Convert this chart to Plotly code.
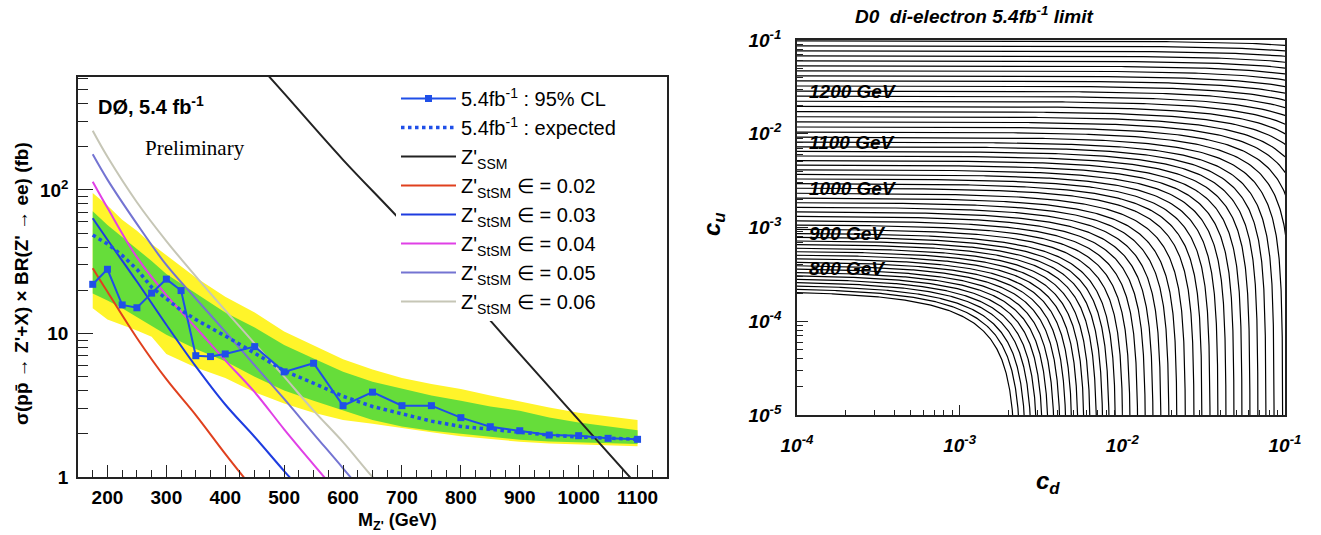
import numpy as np
import plotly.graph_objects as go

# ---------------- Left panel data (D0 Z' -> ee limits) ----------------
mass = [175, 200, 225, 250, 275, 300, 325, 350, 375, 400, 450, 500, 550, 600,
        650, 700, 750, 800, 850, 900, 950, 1000, 1050, 1100]
observed = [22, 28, 15.8, 15.1, 19.1, 23.9, 19.9, 7.0, 6.9, 7.2, 8.1, 5.4, 6.2, 3.14,
            3.9, 3.14, 3.14, 2.59, 2.24, 2.1, 1.96, 1.94, 1.86, 1.83]
expected = [48.5, 42, 35, 28, 21, 17.5, 14.5, 12.5, 11, 9.6, 7.3, 5.5, 4.5, 3.65,
            3.1, 2.75, 2.45, 2.25, 2.15, 2.05, 1.96, 1.9, 1.86, 1.83]

band_mass = [175, 200, 225, 250, 275, 300, 350, 400, 450, 500, 550, 600, 650, 700,
             750, 800, 850, 900, 950, 1000, 1050, 1100]
yellow_hi = [95, 78, 62, 52, 42, 35, 24.5, 18, 14, 10.3, 8.2, 6.6, 5.6, 4.9,
             4.45, 4.1, 3.7, 3.35, 3.05, 2.8, 2.65, 2.5]
green_hi = [71, 57, 47, 39, 32, 26, 19, 14, 11, 8.3, 6.7, 5.4, 4.6, 4.1,
            3.7, 3.4, 3.1, 2.9, 2.6, 2.4, 2.25, 2.12]
green_lo = [19, 17, 15, 13, 11.3, 9.8, 7.8, 6.4, 5.0, 4.0, 3.4, 2.9, 2.5, 2.25,
            2.1, 2.0, 1.9, 1.82, 1.77, 1.74, 1.72, 1.7]
yellow_lo = [15, 12.5, 11.5, 10.5, 9.5, 7.2, 5.8, 4.9, 3.9, 3.25, 2.8, 2.5, 2.35, 2.2,
             2.05, 1.92, 1.83, 1.76, 1.71, 1.68, 1.66, 1.64]

ssm_mass = [450, 500, 600, 700, 800, 900, 1000, 1100]
ssm_xsec = [800, 470, 162, 60, 21, 7.2, 2.5, 0.87]

e02_mass = [175, 200, 250, 300, 350, 400, 450]
e02_xsec = [28.5, 19.5, 9.3, 4.8, 2.7, 1.45, 0.8]
e03_mass = [175, 200, 250, 300, 350, 400, 450, 500, 550]
e03_xsec = [63.5, 45, 23, 11.5, 5.9, 3.2, 1.9, 1.1, 0.65]
e04_mass = [175, 200, 250, 300, 350, 400, 450, 500, 550, 600]
e04_xsec = [114, 75, 34, 18.5, 11, 6.5, 3.9, 2.15, 1.22, 0.7]
e05_mass = [175, 200, 250, 300, 350, 400, 450, 500, 550, 600, 650]
e05_xsec = [177, 118, 58, 30, 17.5, 10.3, 6.0, 3.5, 2.0, 1.15, 0.65]
e06_mass = [175, 200, 250, 300, 350, 400, 450, 500, 550, 600, 650, 700]
e06_xsec = [258, 170, 82, 44, 25, 14.5, 8.5, 5.0, 2.9, 1.75, 1.0, 0.6]

left_xticks = [200, 300, 400, 500, 600, 700, 800, 900, 1000, 1100]
left_yticks = [1, 10, 100]
left_yticktext = ["1", "10", "10<sup>2</sup>"]

# ---------------- Right panel data (c_u - c_d contours) ----------------
contour_mass = list(range(730, 1301, 10))
contour_logcu = [  # log10(c_u) of each contour's flat (c_d -> 0) level
    -3.674, -3.640, -3.606, -3.571, -3.537, -3.502, -3.467,
    -3.432, -3.396, -3.360, -3.324, -3.287, -3.250, -3.213, -3.175, -3.137, -3.098,
    -3.059, -3.015, -2.970, -2.924, -2.877, -2.830, -2.782, -2.733, -2.684, -2.632,
    -2.579, -2.530, -2.481, -2.432, -2.383, -2.334, -2.285, -2.236, -2.187, -2.138,
    -2.088, -2.035, -1.981, -1.927, -1.872, -1.818, -1.763, -1.708, -1.653, -1.599,
    -1.544, -1.490, -1.436, -1.382, -1.328, -1.275, -1.222, -1.169, -1.116, -1.063,
    -1.010]
cd_over_cu = 10.5   # c_d / c_u ratio giving the same cross section
label_mass = [800, 900, 1000, 1100, 1200]
right_ticks = [1e-5, 1e-4, 1e-3, 1e-2, 1e-1]
right_ticktext = ["10<sup>-5</sup>", "10<sup>-4</sup>", "10<sup>-3</sup>",
                  "10<sup>-2</sup>", "10<sup>-1</sup>"]

# ---------------- styling ----------------
W, H = 1321, 535
FONT = "Liberation Sans, Arial, Helvetica, sans-serif"
YEL = "#FFF42A"
GRN = "#66DD3A"
OBS = "#1F4FE8"

def px_x(p):
    return p / W

def px_y(p):
    return 1 - p / H

fig = go.Figure()

# bands
fig.add_trace(go.Scatter(x=band_mass + band_mass[::-1], y=yellow_hi + yellow_lo[::-1],
                         fill="toself", fillcolor=YEL, mode="lines", line=dict(width=0),
                         showlegend=False, hoverinfo="skip", xaxis="x", yaxis="y"))
fig.add_trace(go.Scatter(x=band_mass + band_mass[::-1], y=green_hi + green_lo[::-1],
                         fill="toself", fillcolor=GRN, mode="lines", line=dict(width=0),
                         showlegend=False, hoverinfo="skip", xaxis="x", yaxis="y"))

theory = [
    (e02_mass, e02_xsec, "#E0401E", "Z'<sub>StSM</sub> \u2208 = 0.02", 4),
    (e03_mass, e03_xsec, "#1E3CE0", "Z'<sub>StSM</sub> \u2208 = 0.03", 5),
    (e04_mass, e04_xsec, "#E040E6", "Z'<sub>StSM</sub> \u2208 = 0.04", 6),
    (e05_mass, e05_xsec, "#7474D2", "Z'<sub>StSM</sub> \u2208 = 0.05", 7),
    (e06_mass, e06_xsec, "#C6C6B6", "Z'<sub>StSM</sub> \u2208 = 0.06", 8),
]
for mx, xs, col, name, rank in theory:
    fig.add_trace(go.Scatter(x=mx, y=xs, mode="lines", line=dict(color=col, width=2, shape="spline"),
                             name=name, legendrank=rank, xaxis="x", yaxis="y"))

fig.add_trace(go.Scatter(x=ssm_mass, y=ssm_xsec, mode="lines",
                         line=dict(color="#222222", width=2, shape="spline"),
                         name="Z'<sub>SSM</sub>", legendrank=3, xaxis="x", yaxis="y"))
fig.add_trace(go.Scatter(x=mass, y=expected, mode="lines",
                         line=dict(color=OBS, width=3.5, dash="dot"),
                         name="5.4fb<sup>-1</sup> : expected", legendrank=2, xaxis="x", yaxis="y"))
fig.add_trace(go.Scatter(x=mass, y=observed, mode="lines+markers",
                         line=dict(color=OBS, width=2), marker=dict(symbol="square", size=7, color=OBS),
                         name="5.4fb<sup>-1</sup> : 95% CL", legendrank=1, xaxis="x", yaxis="y"))

# right panel contours
for m, lk in zip(contour_mass, contour_logcu):
    K = 10 ** lk
    V = K * cd_over_cu
    cd1 = np.logspace(-4.1, np.log10(V * 0.5), 160)
    cu1 = K * (1 - cd1 / V)
    cu2 = np.logspace(np.log10(K * 0.5), -5.3, 160)[1:]
    cd2 = V * (1 - cu2 / K)
    fig.add_trace(go.Scatter(x=np.concatenate([cd1, cd2]), y=np.concatenate([cu1, cu2]),
                             mode="lines", line=dict(color="black", width=1.2),
                             showlegend=False, hoverinfo="skip", xaxis="x2", yaxis="y2"))

left_yminor = [v * 10 ** d for d in range(0, 3) for v in range(2, 10) if v * 10 ** d < 620]
left_xminor = [m for m in range(150, 1151, 25) if m % 100 != 0]
right_xminor = [v * 10.0 ** d for d in range(-4, -1) for v in range(2, 10)]
right_yminor = [v * 10.0 ** d for d in range(-5, -1) for v in range(2, 10)]

axis_common = dict(showgrid=False, zeroline=False, showline=True, mirror=True, automargin=False,
                   linecolor="#222222", linewidth=1.5, ticks="inside", tickcolor="#222222")

fig.update_layout(
    width=W, height=H, margin=dict(l=0, r=0, t=0, b=0, autoexpand=False),
    paper_bgcolor="white", plot_bgcolor="white",
    font=dict(family=FONT, color="black"),
    xaxis=dict(domain=[px_x(78), px_x(667)], range=[150, 1150], anchor="y",
               tickmode="array", tickvals=left_xticks, ticklen=12, tickwidth=1.3,
               tickfont=dict(size=19, weight="bold", family=FONT),
               ticklabelstandoff=2,
               minor=dict(tickmode="array", tickvals=left_xminor, ticks="inside", ticklen=7,
                          tickcolor="#222222", showgrid=False),
               **axis_common),
    yaxis=dict(domain=[px_y(477), px_y(77)], type="log", range=[0, np.log10(612)], anchor="x",
               tickmode="array", tickvals=left_yticks, ticktext=left_yticktext,
               ticklen=15, tickwidth=1.3,
               tickfont=dict(size=19, weight="bold", family=FONT), ticklabelstandoff=4,
               minor=dict(tickmode="array", tickvals=left_yminor, ticks="inside", ticklen=10,
                          tickcolor="#222222", showgrid=False),
               **axis_common),
    xaxis2=dict(domain=[px_x(797), px_x(1285)], type="log", range=[-4, -1], anchor="y2",
                tickmode="array", tickvals=right_ticks[1:], ticktext=right_ticktext[1:],
                ticklen=10, tickwidth=1.2,
                tickfont=dict(size=19, weight="bold", style="italic", family=FONT),
                ticklabelstandoff=12,
                minor=dict(tickmode="array", tickvals=right_xminor, ticks="inside", ticklen=5,
                           tickcolor="#222222", showgrid=False),
                **axis_common),
    yaxis2=dict(domain=[px_y(415), px_y(40)], type="log", range=[-5, -1], anchor="x2",
                tickmode="array", tickvals=right_ticks, ticktext=right_ticktext,
                ticklen=11, tickwidth=1.2,
                tickfont=dict(size=19, weight="bold", style="italic", family=FONT),
                ticklabelstandoff=10,
                minor=dict(tickmode="array", tickvals=right_yminor, ticks="inside", ticklen=6,
                           tickcolor="#222222", showgrid=False),
                **axis_common),
    legend=dict(x=px_x(396), xanchor="left", y=px_y(79), yanchor="top",
                bgcolor="white", borderwidth=0,
                font=dict(size=20, family=FONT, color="black"),
                itemwidth=55, tracegroupgap=0, traceorder="normal"),
    showlegend=True,
)

ann = []

def add_text(text, x, y, size, xref="paper", yref="paper", xanchor="center", angle=0, **fontkw):
    ann.append(dict(text=text, x=x, y=y, xref=xref, yref=yref, xanchor=xanchor, yanchor="middle",
                    textangle=angle, showarrow=False,
                    font=dict(size=size, family=fontkw.pop("family", FONT), **fontkw)))

add_text("\u03c3(pp\u0304 \u2192 Z'+X) \u00d7 BR(Z' \u2192 ee) (fb)", px_x(21), px_y(284), 19,
         angle=-90, weight="bold")
add_text("M<sub>Z'</sub> (GeV)", px_x(397), px_y(521), 18, weight="bold")
add_text("D\u00d8, 5.4 fb<sup>-1</sup>", px_x(96), px_y(106), 20, xanchor="left", weight="bold")
add_text("Preliminary", px_x(143), px_y(148), 21, xanchor="left",
         family="Liberation Serif, Times New Roman, serif")
# right panel texts
add_text("D0\u00a0 di-electron 5.4fb<sup>-1</sup> limit", px_x(974), px_y(15), 19,
         weight="bold", style="italic")
add_text("c<sub>u</sub>", px_x(713), px_y(224), 24, angle=-90, weight="bold", style="italic")
add_text("c<sub>d</sub>", px_x(1048), px_y(483), 24, weight="bold", style="italic")
for lm in label_mass:
    lk = contour_logcu[contour_mass.index(lm)]
    add_text(f"{lm} GeV", -3.94, lk, 19, xref="x2", yref="y2", xanchor="left",
             weight="bold", style="italic")
fig.update_layout(annotations=ann)

fig.write_html("out.html")
